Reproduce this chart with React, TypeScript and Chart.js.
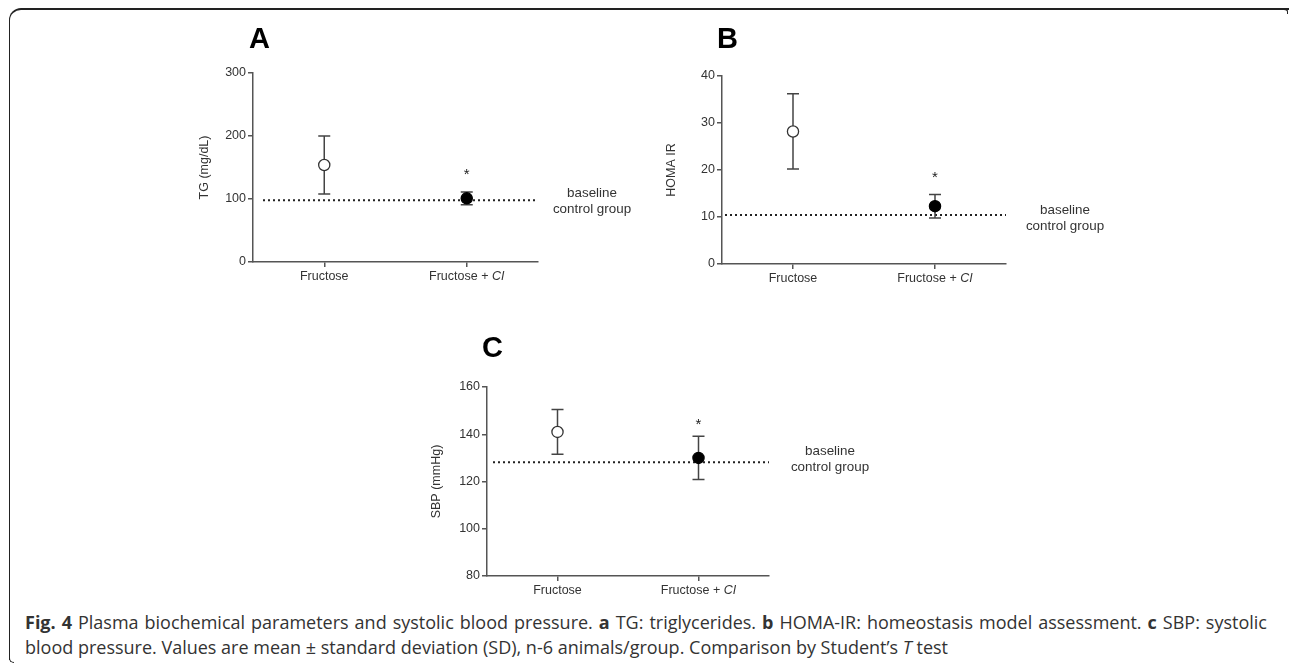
import React, { useEffect, useRef } from "react";
import { Chart, registerables } from "chart.js";

Chart.register(...registerables);

// ---------- DATA ----------
const categories = ["Fructose", "Fructose + CI"];

const panelLetters = ["A", "B", "C"];
const yTitles = ["TG (mg/dL)", "HOMA IR", "SBP (mmHg)"];

const meansA = [154, 101];
const sdA = [46, 10];
const baselineA = 98;
const starA = 143;
const yMinA = 0;
const yMaxA = 300;
const yStepA = 100;

const meansB = [28.2, 12.3];
const sdB = [8.0, 2.5];
const baselineB = 10.4;
const starB = 19;
const yMinB = 0;
const yMaxB = 40;
const yStepB = 10;

const meansC = [141, 130];
const sdC = [9.5, 9.2];
const baselineC = 128.2;
const starC = 145.4;
const yMinC = 80;
const yMaxC = 160;
const yStepC = 20;

const baselineText = ["baseline", "control group"];

// ---------- STYLE / LAYOUT ----------
const FONT = "'Liberation Sans', Arial, Helvetica, sans-serif";
const AXIS = "#555";
const TEXT = "#333";

type Panel = {
  letter: string;
  yTitle: string;
  means: number[];
  sd: number[];
  baseline: number;
  star: number;
  yMin: number;
  yMax: number;
  yStep: number;
  left: number;
  top: number;
  width: number;
  areaLeft: number;
  areaRight: number;
  areaTop: number;
  areaBottom: number;
  letterX: number;
  letterBase: number;
  titleX: number;
  dotStart: number;
  textDx: number;
  textDy1: number;
  textDy2: number;
};

const panels: Panel[] = [
  {
    letter: panelLetters[0], yTitle: yTitles[0], means: meansA, sd: sdA, baseline: baselineA, star: starA,
    yMin: yMinA, yMax: yMaxA, yStep: yStepA,
    left: 180, top: 15, width: 470, areaLeft: 253, areaRight: 538, areaTop: 73, areaBottom: 262,
    letterX: 249, letterBase: 48, titleX: 205, dotStart: 10, textDx: 54, textDy1: -7, textDy2: 9,
  },
  {
    letter: panelLetters[1], yTitle: yTitles[1], means: meansB, sd: sdB, baseline: baselineB, star: starB,
    yMin: yMinB, yMax: yMaxB, yStep: yStepB,
    left: 650, top: 15, width: 470, areaLeft: 722, areaRight: 1006, areaTop: 76, areaBottom: 264,
    letterX: 717, letterBase: 48, titleX: 672, dotStart: 3, textDx: 59, textDy1: -5, textDy2: 11,
  },
  {
    letter: panelLetters[2], yTitle: yTitles[2], means: meansC, sd: sdC, baseline: baselineC, star: starC,
    yMin: yMinC, yMax: yMaxC, yStep: yStepC,
    left: 415, top: 325, width: 470, areaLeft: 487, areaRight: 769, areaTop: 387, areaBottom: 576,
    letterX: 482, letterBase: 357, titleX: 437, dotStart: 6, textDx: 61, textDy1: -11, textDy2: 5,
  },
];

const X_AXIS_H = 33;

function makeOverlay(p: Panel) {
  return {
    id: "overlay",
    beforeDatasetsDraw(chart: any) {
      const { ctx, chartArea, scales } = chart;
      const x = scales.x;
      const y = scales.y;
      ctx.save();
      const by = y.getPixelForValue(p.baseline);
      ctx.strokeStyle = "#222";
      ctx.lineWidth = 2;
      ctx.setLineDash([2, 3]);
      ctx.beginPath();
      ctx.moveTo(chartArea.left + p.dotStart, by);
      ctx.lineTo(chartArea.right, by);
      ctx.stroke();
      ctx.setLineDash([]);
      ctx.strokeStyle = "#444";
      ctx.lineWidth = 1.5;
      p.means.forEach((m, i) => {
        const px = x.getPixelForValue(i);
        const t = y.getPixelForValue(m + p.sd[i]);
        const b = y.getPixelForValue(m - p.sd[i]);
        ctx.beginPath();
        ctx.moveTo(px, t);
        ctx.lineTo(px, b);
        ctx.moveTo(px - 6, t);
        ctx.lineTo(px + 6, t);
        ctx.moveTo(px - 6, b);
        ctx.lineTo(px + 6, b);
        ctx.stroke();
      });
      ctx.restore();
    },
    afterDraw(chart: any) {
      const { ctx, chartArea, scales } = chart;
      const x = scales.x;
      const y = scales.y;
      const ox = p.left;
      const oy = p.top;
      ctx.save();
      ctx.fillStyle = "#000";
      ctx.font = `bold 29px ${FONT}`;
      ctx.textAlign = "left";
      ctx.textBaseline = "alphabetic";
      ctx.fillText(p.letter, p.letterX - ox, p.letterBase - oy);
      ctx.fillStyle = TEXT;
      ctx.font = `12.5px ${FONT}`;
      ctx.save();
      ctx.translate(p.titleX - ox, (chartArea.top + chartArea.bottom) / 2);
      ctx.rotate(-Math.PI / 2);
      ctx.textAlign = "center";
      ctx.textBaseline = "middle";
      ctx.fillText(p.yTitle, 0, 0);
      ctx.restore();
      ctx.textBaseline = "middle";
      ctx.textAlign = "left";
      categories.forEach((lab, i) => {
        const px = x.getPixelForValue(i);
        const ly = chartArea.bottom + 15;
        const m = lab.match(/^(.*?)(CI)$/);
        if (m) {
          ctx.font = `12.5px ${FONT}`;
          const w1 = ctx.measureText(m[1]).width;
          ctx.font = `italic 12.5px ${FONT}`;
          const w2 = ctx.measureText(m[2]).width;
          const sx = px - (w1 + w2) / 2;
          ctx.font = `12.5px ${FONT}`;
          ctx.fillText(m[1], sx, ly);
          ctx.font = `italic 12.5px ${FONT}`;
          ctx.fillText(m[2], sx + w1, ly);
        } else {
          ctx.font = `12.5px ${FONT}`;
          const w = ctx.measureText(lab).width;
          ctx.fillText(lab, px - w / 2, ly);
        }
      });
      ctx.font = `15px ${FONT}`;
      ctx.textAlign = "center";
      ctx.textBaseline = "middle";
      ctx.fillStyle = "#222";
      ctx.fillText("*", x.getPixelForValue(1), y.getPixelForValue(p.star) + 3);
      const by = y.getPixelForValue(p.baseline);
      ctx.font = `13.4px ${FONT}`;
      ctx.fillStyle = TEXT;
      ctx.fillText(baselineText[0], chartArea.right + p.textDx, by + p.textDy1);
      ctx.fillText(baselineText[1], chartArea.right + p.textDx, by + p.textDy2);
      ctx.restore();
    },
  };
}

function PanelChart({ p }: { p: Panel }) {
  const ref = useRef<HTMLCanvasElement | null>(null);
  const height = p.areaBottom + X_AXIS_H - p.top;
  useEffect(() => {
    if (!ref.current) return;
    const yW = p.areaLeft - p.left;
    const chart = new Chart(ref.current, {
      type: "line",
      data: {
        labels: categories,
        datasets: [
          {
            data: p.means,
            showLine: false,
            pointRadius: 5.6,
            pointHoverRadius: 5.6,
            pointBackgroundColor: ["#fff", "#000"],
            pointBorderColor: ["#333", "#000"],
            pointBorderWidth: 1.3,
          },
        ],
      },
      options: {
        responsive: false,
        animation: false,
        events: [],
        layout: {
          padding: {
            left: 0,
            top: p.areaTop - p.top,
            right: p.left + p.width - p.areaRight,
            bottom: 0,
          },
        },
        plugins: {
          legend: { display: false },
          tooltip: { enabled: false },
        },
        scales: {
          x: {
            type: "category",
            offset: true,
            grid: {
              display: true,
              drawOnChartArea: false,
              drawTicks: true,
              tickLength: 5,
              color: AXIS,
              lineWidth: 1.5,
              offset: false,
            },
            border: { display: true, color: AXIS, width: 1.5 },
            ticks: { callback: () => "", padding: 0 },
            afterFit: (s: any) => {
              s.height = X_AXIS_H;
            },
          },
          y: {
            type: "linear",
            min: p.yMin,
            max: p.yMax,
            grid: {
              display: true,
              drawOnChartArea: false,
              drawTicks: true,
              tickLength: 5,
              color: AXIS,
              lineWidth: 1.5,
            },
            border: { display: true, color: AXIS, width: 1.5 },
            ticks: {
              stepSize: p.yStep,
              color: TEXT,
              font: { family: FONT, size: 12.5 },
              padding: 2,
            },
            afterFit: (s: any) => {
              s.width = yW;
            },
          },
        },
      } as any,
      plugins: [makeOverlay(p)],
    });
    return () => chart.destroy();
  }, [p]);
  return (
    <canvas
      ref={ref}
      width={p.width}
      height={height}
      style={{ position: "absolute", left: p.left, top: p.top, width: p.width, height }}
    />
  );
}

const CAP_FONT = "'Open Sans', 'Noto Sans', sans-serif";

export default function App() {
  const capStyle: React.CSSProperties = {
    position: "absolute",
    left: 25,
    fontFamily: CAP_FONT,
    fontSize: 18,
    lineHeight: "25px",
    color: "#333",
    whiteSpace: "nowrap",
  };
  return (
    <div
      style={{
        position: "absolute",
        left: 0,
        top: 0,
        width: 1290,
        height: 666,
        background: "#fff",
        overflow: "hidden",
      }}
    >
      <div
        style={{
          position: "absolute",
          left: 9,
          top: 8,
          width: 1279,
          height: 650,
          borderTop: "2px solid #222",
          borderLeft: "1.5px solid #222",
          borderTopLeftRadius: 12,
        }}
      />
      <div
        style={{
          position: "absolute",
          left: 9,
          top: 652,
          width: 4,
          height: 10,
          borderLeft: "1.5px solid #222",
          borderBottom: "1.5px solid #222",
          borderBottomLeftRadius: 6,
        }}
      />
      <div
        style={{
          position: "absolute",
          left: 1280,
          top: 8,
          width: 7,
          height: 4,
          borderTop: "2px solid #222",
          borderRight: "1.5px solid #222",
          borderTopRightRadius: 4,
        }}
      />
      {panels.map((p, i) => (
        <PanelChart key={i} p={p} />
      ))}
      <div
        style={{
          ...capStyle,
          top: 610,
          width: 1242,
          whiteSpace: "normal",
          textAlign: "justify",
          textAlignLast: "justify",
          height: 25,
          overflow: "hidden",
        }}
      >
        <b>Fig. 4</b> Plasma biochemical parameters and systolic blood pressure. <b>a</b> TG: triglycerides.{" "}
        <b>b</b> HOMA-IR: homeostasis model assessment. <b>c</b> SBP: systolic
      </div>
      <div style={{ ...capStyle, top: 635 }}>
        blood pressure. Values are mean ± standard deviation (SD), n-6 animals/group. Comparison by Student’s{" "}
        <i>T</i> test
      </div>
    </div>
  );
}
